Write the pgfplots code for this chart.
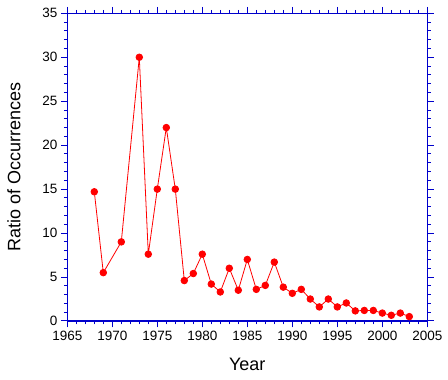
\documentclass[border=0pt]{standalone}
\usepackage{pgfplots}
\pgfplotsset{compat=1.18}
\usepackage{fontspec}
\setmainfont{Liberation Sans}
\definecolor{axblue}{RGB}{0,0,204}
\begin{document}
\begin{tikzpicture}[x=1pt,y=1pt]
\useasboundingbox (-67.3,-59) rectangle (380.7,321);
\begin{axis}[at={(0,0)}, anchor=south west, scale only axis,
  width=360pt, height=307.7pt,
  xmin=1965, xmax=2005, ymin=0, ymax=35,
  xtick={1965,1970,...,2005}, ytick={0,5,...,35},
  minor x tick num=4, minor y tick num=4,
  tick align=outside, major tick length=6.5pt, minor tick length=3.5pt,
  axis line style={axblue, line width=1.2pt},
  every tick/.style={axblue, line width=1pt},
  tick label style={font=\fontsize{13.5}{14}\selectfont, black},
  /pgf/number format/assume math mode=true,
  /pgf/number format/1000 sep={},
  xlabel={Year}, ylabel={Ratio of Occurrences},
  label style={font=\fontsize{18}{20}\selectfont},
  xlabel style={at={(axis description cs:0.5,0)}, yshift=-49.7pt, anchor=base},
  ylabel style={at={(axis description cs:-0.148,0.5)}, anchor=center},
]
\addplot[red, line width=0.8pt, mark=*, mark size=3.3pt, mark options={fill=red, draw=red}] coordinates {
(1968,14.7) (1969,5.5) (1971,9.0) (1973,30.0) (1974,7.6) (1975,15.0)
(1976,22.0) (1977,15.0) (1978,4.6) (1979,5.4) (1980,7.6) (1981,4.2)
(1982,3.3) (1983,6.0) (1984,3.5) (1985,7.0) (1986,3.6) (1987,4.05)
(1988,6.7) (1989,3.85) (1990,3.15) (1991,3.6) (1992,2.5) (1993,1.6)
(1994,2.5) (1995,1.6) (1996,2.05) (1997,1.15) (1998,1.2) (1999,1.2)
(2000,0.9) (2001,0.65) (2002,0.9) (2003,0.5)
};
\end{axis}
\end{tikzpicture}
\end{document}
